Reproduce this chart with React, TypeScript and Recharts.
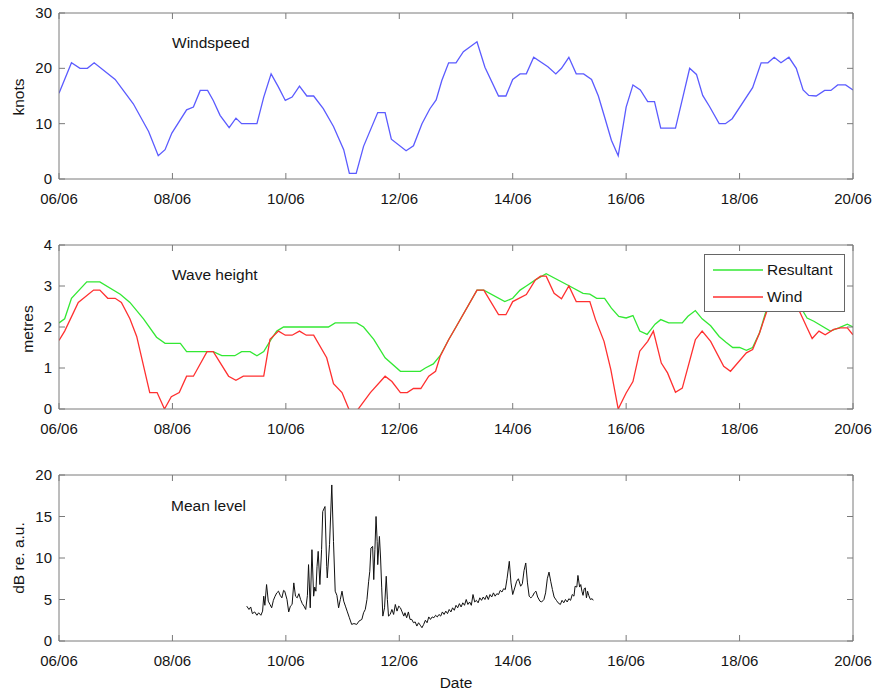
import React from 'react';
import { LineChart, Line, XAxis, YAxis, Legend } from 'recharts';

const dateTicks = [0, 2, 4, 6, 8, 10, 12, 14];
const dateLabels = ['06/06', '08/06', '10/06', '12/06', '14/06', '16/06', '18/06', '20/06'];
const windTicks = [0, 10, 20, 30];
const waveTicks = [0, 1, 2, 3, 4];
const levelTicks = [0, 5, 10, 15, 20];

// [day since 06/06, knots]
const windspeed: [number, number][] = [
  [0, 15.5], [0.22, 21], [0.37, 20], [0.5, 20], [0.62, 21], [0.99, 18], [1.31, 13.6], [1.58, 8.6],
  [1.75, 4.2], [1.87, 5.3], [1.99, 8.3], [2.25, 12.5], [2.37, 13], [2.49, 16], [2.62, 16], [2.72, 14.2],
  [2.84, 11.5], [3.0, 9.3], [3.12, 11], [3.22, 10], [3.49, 10], [3.61, 14.8], [3.74, 19], [3.87, 16.6],
  [3.99, 14.2], [4.11, 14.8], [4.24, 16.8], [4.37, 15], [4.49, 15], [4.66, 12.7], [4.84, 9.5], [5.02, 5.3],
  [5.12, 1], [5.24, 1], [5.37, 5.9], [5.62, 12], [5.75, 12], [5.86, 7.2], [6.12, 5.1], [6.25, 6],
  [6.4, 10], [6.54, 12.7], [6.65, 14.3], [6.75, 17.8], [6.87, 21], [7.0, 21], [7.13, 23], [7.37, 24.8],
  [7.51, 20.2], [7.75, 15], [7.88, 15], [8.0, 18], [8.13, 19], [8.24, 19], [8.37, 22], [8.62, 20.3],
  [8.76, 19], [8.86, 20], [8.99, 22], [9.12, 19], [9.25, 19], [9.39, 18], [9.51, 15], [9.62, 11.2],
  [9.74, 7], [9.86, 4.2], [10.0, 13], [10.12, 17], [10.25, 16.1], [10.38, 14], [10.5, 14], [10.61, 9.2],
  [10.87, 9.2], [11.0, 14.8], [11.12, 20], [11.24, 18.9], [11.35, 15.1], [11.47, 13.1], [11.64, 10], [11.75, 10],
  [11.87, 10.9], [12.23, 16.5], [12.38, 21], [12.5, 21], [12.61, 22], [12.73, 21], [12.87, 22], [13.0, 20],
  [13.12, 16.1], [13.22, 15.1], [13.35, 15], [13.5, 16], [13.61, 16], [13.73, 17], [13.87, 17], [14.0, 16.1],
];

// [day, metres]
const resultant: [number, number][] = [
  [0, 2.1], [0.1, 2.2], [0.22, 2.7], [0.49, 3.1], [0.72, 3.1], [1.08, 2.8], [1.25, 2.6], [1.49, 2.2],
  [1.72, 1.75], [1.87, 1.6], [2.14, 1.6], [2.25, 1.4], [2.72, 1.4], [2.87, 1.3], [3.1, 1.3], [3.22, 1.4],
  [3.37, 1.4], [3.49, 1.3], [3.61, 1.4], [3.74, 1.7], [3.84, 1.9], [3.96, 2.0], [4.75, 2.0], [4.87, 2.1],
  [5.25, 2.1], [5.37, 2.0], [5.55, 1.7], [5.75, 1.25], [6.02, 0.92], [6.37, 0.92], [6.46, 1.0], [6.6, 1.1],
  [6.72, 1.3], [6.87, 1.69], [7.0, 2.0], [7.37, 2.9], [7.49, 2.9], [7.86, 2.62], [8.0, 2.7], [8.13, 2.9],
  [8.24, 3.0], [8.4, 3.15], [8.59, 3.3], [9.0, 3.0], [9.24, 2.82], [9.36, 2.8], [9.48, 2.7], [9.62, 2.7],
  [9.74, 2.46], [9.87, 2.26], [10.0, 2.22], [10.12, 2.28], [10.24, 1.9], [10.37, 1.82], [10.51, 2.07], [10.61, 2.18],
  [10.75, 2.1], [10.99, 2.1], [11.09, 2.26], [11.22, 2.4], [11.34, 2.2], [11.49, 2.03], [11.64, 1.77], [11.76, 1.63],
  [11.88, 1.5], [12.0, 1.5], [12.12, 1.43], [12.23, 1.5], [12.35, 1.85], [12.48, 2.45], [12.65, 2.9], [12.85, 2.9],
  [13.07, 2.5], [13.19, 2.22], [13.31, 2.14], [13.6, 1.9], [13.75, 1.98], [13.9, 2.07], [14.0, 2.0],
];

// [day, metres]
const windWave: [number, number][] = [
  [0, 1.67], [0.1, 1.9], [0.34, 2.6], [0.61, 2.9], [0.72, 2.9], [0.86, 2.7], [0.99, 2.7], [1.1, 2.6],
  [1.25, 2.2], [1.37, 1.77], [1.6, 0.4], [1.73, 0.4], [1.86, 0], [1.98, 0.3], [2.12, 0.4], [2.25, 0.8],
  [2.37, 0.8], [2.61, 1.4], [2.72, 1.4], [2.99, 0.8], [3.12, 0.7], [3.25, 0.8], [3.61, 0.8], [3.72, 1.7],
  [3.87, 1.9], [3.99, 1.8], [4.11, 1.8], [4.24, 1.9], [4.36, 1.8], [4.49, 1.8], [4.72, 1.25], [4.84, 0.62],
  [4.99, 0.4], [5.17, -0.2], [5.49, 0.4], [5.75, 0.8], [5.87, 0.67], [6.02, 0.4], [6.14, 0.4], [6.25, 0.5],
  [6.38, 0.5], [6.52, 0.8], [6.64, 0.92], [6.72, 1.28], [6.87, 1.69], [7.0, 2.0], [7.37, 2.9], [7.49, 2.9],
  [7.75, 2.3], [7.88, 2.3], [8.0, 2.62], [8.24, 2.79], [8.4, 3.15], [8.49, 3.24], [8.59, 3.24], [8.73, 2.82],
  [8.86, 2.69], [8.99, 3.0], [9.12, 2.62], [9.36, 2.62], [9.46, 2.18], [9.61, 1.65], [9.73, 0.96], [9.86, 0],
  [10.0, 0.39], [10.12, 0.67], [10.24, 1.41], [10.38, 1.65], [10.48, 1.9], [10.62, 1.12], [10.73, 0.88], [10.87, 0.41],
  [10.99, 0.51], [11.22, 1.69], [11.34, 1.9], [11.49, 1.65], [11.72, 1.04], [11.84, 0.92], [12.12, 1.37], [12.23, 1.45],
  [12.35, 1.85], [12.49, 2.42], [12.7, 2.85], [12.9, 2.8], [13.07, 2.34], [13.19, 1.98], [13.28, 1.72], [13.4, 1.9],
  [13.51, 1.81], [13.66, 1.94], [13.78, 1.98], [13.9, 1.98], [14.0, 1.81],
];

// [day, dB re. a.u.]
const meanLevel: [number, number][] = [
  [3.31, 4.2], [3.35, 3.8], [3.38, 4.1], [3.41, 3.3], [3.45, 3.5], [3.49, 3.1], [3.52, 3.4], [3.56, 3.1],
  [3.59, 3.6], [3.61, 5.4], [3.63, 4.3], [3.66, 6.8], [3.69, 4.8], [3.72, 4.4], [3.75, 4.0], [3.78, 4.9],
  [3.81, 5.4], [3.84, 5.8], [3.87, 6.0], [3.9, 5.5], [3.93, 5.2], [3.96, 6.1], [3.98, 6.0], [4.02, 5.0],
  [4.05, 3.5], [4.08, 4.2], [4.11, 4.4], [4.14, 7.0], [4.17, 5.4], [4.2, 5.2], [4.23, 5.7], [4.26, 5.0],
  [4.29, 4.5], [4.32, 4.2], [4.35, 3.8], [4.38, 5.5], [4.4, 9.2], [4.43, 4.0], [4.46, 11.0], [4.49, 5.4],
  [4.51, 6.5], [4.53, 6.0], [4.55, 9.0], [4.57, 10.8], [4.6, 6.8], [4.63, 11.0], [4.65, 15.6], [4.69, 16.2],
  [4.72, 9.0], [4.73, 7.6], [4.77, 11.6], [4.81, 18.8], [4.84, 12.0], [4.87, 6.0], [4.9, 5.5], [4.93, 4.0],
  [4.96, 5.0], [4.99, 6.0], [5.02, 4.8], [5.05, 4.2], [5.08, 3.6], [5.12, 2.8], [5.16, 2.0], [5.2, 2.1],
  [5.25, 2.0], [5.29, 2.4], [5.34, 2.6], [5.37, 3.4], [5.4, 3.8], [5.43, 5.0], [5.46, 7.2], [5.48, 8.4],
  [5.5, 11.2], [5.53, 11.4], [5.55, 7.4], [5.57, 11.0], [5.59, 15.0], [5.61, 12.0], [5.62, 9.2], [5.65, 12.6],
  [5.67, 10.0], [5.69, 6.4], [5.71, 3.0], [5.74, 4.0], [5.77, 7.8], [5.79, 5.0], [5.81, 3.0], [5.84, 3.2],
  [5.87, 3.8], [5.9, 3.2], [5.93, 4.4], [5.96, 3.6], [5.99, 4.2], [6.02, 4.0], [6.05, 3.5], [6.08, 3.0],
  [6.1, 3.4], [6.13, 2.8], [6.16, 3.5], [6.19, 2.6], [6.22, 2.6], [6.25, 2.2], [6.28, 2.3], [6.31, 1.8],
  [6.34, 2.2], [6.37, 1.9], [6.4, 1.6], [6.43, 2.0], [6.46, 2.5], [6.49, 2.2], [6.52, 2.9], [6.55, 2.6],
  [6.58, 2.9], [6.61, 2.8], [6.64, 3.1], [6.67, 2.9], [6.7, 3.2], [6.73, 3.0], [6.76, 3.5], [6.79, 3.2],
  [6.82, 3.6], [6.85, 3.3], [6.88, 3.8], [6.91, 3.5], [6.94, 4.0], [6.97, 3.7], [7.0, 4.3], [7.03, 4.0],
  [7.06, 4.5], [7.09, 4.1], [7.12, 4.6], [7.15, 4.3], [7.18, 5.0], [7.21, 4.4], [7.24, 4.7], [7.27, 4.3],
  [7.3, 5.6], [7.33, 4.7], [7.36, 4.9], [7.39, 4.6], [7.42, 5.2], [7.45, 4.9], [7.48, 5.3], [7.51, 5.0],
  [7.54, 5.5], [7.57, 5.0], [7.6, 5.6], [7.63, 5.3], [7.66, 5.8], [7.69, 5.4], [7.72, 5.7], [7.75, 5.6],
  [7.78, 6.1], [7.81, 5.9], [7.84, 6.3], [7.87, 6.2], [7.9, 7.5], [7.94, 9.6], [7.97, 7.0], [8.0, 5.6],
  [8.04, 6.5], [8.07, 7.2], [8.1, 7.5], [8.14, 6.6], [8.17, 6.9], [8.2, 8.5], [8.23, 9.4], [8.26, 7.0],
  [8.29, 5.4], [8.32, 5.2], [8.35, 5.4], [8.38, 5.8], [8.41, 6.0], [8.44, 5.3], [8.48, 4.8], [8.51, 4.7],
  [8.55, 5.0], [8.58, 5.8], [8.61, 7.5], [8.64, 8.3], [8.67, 7.2], [8.7, 6.2], [8.73, 5.3], [8.77, 4.9],
  [8.8, 4.6], [8.84, 4.4], [8.87, 4.9], [8.9, 4.6], [8.93, 5.0], [8.96, 4.7], [8.99, 5.1], [9.02, 4.9],
  [9.05, 5.6], [9.08, 5.4], [9.1, 6.6], [9.13, 6.5], [9.15, 7.9], [9.18, 6.5], [9.2, 6.8], [9.22, 6.0],
  [9.24, 5.5], [9.26, 6.3], [9.28, 6.4], [9.3, 5.2], [9.32, 6.0], [9.34, 5.5], [9.37, 5.0], [9.4, 5.1],
  [9.42, 4.9],
];

const toRows = (pairs: [number, number][]) => pairs.map(([d, v]) => ({ d, v }));

const FRAME = '#7a7a7a';
const TXT = '#151515';
const FONT = '"Liberation Sans", Arial, Helvetica, sans-serif';
const TICK_FS = 15;
const TEXT_FS = 15.5;
const W = 875;
const Y_AXIS_W = 40;
const X_AXIS_H = 30;

const BottomTick = (props: any) => {
  const { x, y, payload } = props;
  const i = dateTicks.indexOf(payload.value);
  return (
    <g>
      <line x1={x} x2={x} y1={y} y2={y - 6} stroke={FRAME} strokeWidth={1} />
      <text x={x} y={y + 25} textAnchor="middle" fontSize={TICK_FS} fill={TXT} fontFamily={FONT}>
        {i >= 0 ? dateLabels[i] : ''}
      </text>
    </g>
  );
};

const TopTick = (props: any) => {
  const { x, y } = props;
  return <line x1={x} x2={x} y1={y} y2={y + 6} stroke={FRAME} strokeWidth={1} />;
};

const LeftTick = (props: any) => {
  const { x, y, payload } = props;
  return (
    <g>
      <line x1={x} x2={x + 6} y1={y} y2={y} stroke={FRAME} strokeWidth={1} />
      <text x={x - 7} y={y + 5} textAnchor="end" fontSize={TICK_FS} fill={TXT} fontFamily={FONT}>
        {payload.value}
      </text>
    </g>
  );
};

const RightTick = (props: any) => {
  const { x, y } = props;
  return <line x1={x} x2={x - 6} y1={y} y2={y} stroke={FRAME} strokeWidth={1} />;
};

const WaveLegend = () => (
  <div
    style={{
      width: 141,
      height: 58,
      boxSizing: 'border-box',
      border: '1px solid #666',
      background: '#fff',
      fontFamily: FONT,
      fontSize: TEXT_FS,
      color: TXT,
      position: 'relative',
    }}
  >
    <svg width={60} height={56} style={{ position: 'absolute', left: 0, top: 0 }}>
      <line x1={8} x2={58} y1={15} y2={15} stroke="#33e833" strokeWidth={1.3} />
      <line x1={8} x2={58} y1={42} y2={42} stroke="#ff3030" strokeWidth={1.3} />
    </svg>
    <div style={{ position: 'absolute', left: 62, top: 6, lineHeight: '18px' }}>Resultant</div>
    <div style={{ position: 'absolute', left: 62, top: 33, lineHeight: '18px' }}>Wind</div>
  </div>
);

type PanelProps = {
  top: number;
  height: number;
  plotTop: number;
  plotBottom: number;
  yMax: number;
  yTicks: number[];
  children: React.ReactNode;
};

// plot box: x 59..853
const Panel = ({ top, height, plotTop, plotBottom, yMax, yTicks, children }: PanelProps) => (
  <div style={{ position: 'absolute', left: 0, top, width: W, height }}>
    <LineChart
      width={W}
      height={height}
      margin={{
        top: plotTop - 1,
        right: W - 853 - 1,
        bottom: height - plotBottom - X_AXIS_H,
        left: 59 - Y_AXIS_W,
      }}
    >
      <XAxis
        xAxisId="b"
        dataKey="d"
        type="number"
        domain={[0, 14]}
        allowDataOverflow
        ticks={dateTicks}
        interval={0}
        height={X_AXIS_H}
        tickSize={0}
        tickMargin={0}
        tickLine={false}
        axisLine={{ stroke: FRAME }}
        tick={<BottomTick />}
      />
      <XAxis
        xAxisId="t"
        orientation="top"
        dataKey="d"
        type="number"
        domain={[0, 14]}
        allowDataOverflow
        ticks={dateTicks}
        interval={0}
        height={1}
        tickSize={0}
        tickMargin={0}
        tickLine={false}
        axisLine={{ stroke: FRAME }}
        tick={<TopTick />}
      />
      <YAxis
        yAxisId="l"
        type="number"
        domain={[0, yMax]}
        allowDataOverflow
        ticks={yTicks}
        interval={0}
        width={Y_AXIS_W}
        tickSize={0}
        tickMargin={0}
        tickLine={false}
        axisLine={{ stroke: FRAME }}
        tick={<LeftTick />}
      />
      <YAxis
        yAxisId="r"
        orientation="right"
        type="number"
        domain={[0, yMax]}
        allowDataOverflow
        ticks={yTicks}
        interval={0}
        width={1}
        tickSize={0}
        tickMargin={0}
        tickLine={false}
        axisLine={{ stroke: FRAME }}
        tick={<RightTick />}
      />
      {children}
    </LineChart>
  </div>
);

const textStyle: React.CSSProperties = {
  position: 'absolute',
  fontFamily: FONT,
  fontSize: TEXT_FS,
  color: TXT,
  whiteSpace: 'nowrap',
  lineHeight: '18px',
};

const RotLabel = ({ text, cx, cy }: { text: string; cx: number; cy: number }) => (
  <div
    style={{
      ...textStyle,
      left: cx - 100,
      top: cy - 9,
      width: 200,
      textAlign: 'center',
      transform: 'rotate(-90deg)',
    }}
  >
    {text}
  </div>
);

export default function App() {
  return (
    <div style={{ position: 'absolute', left: 0, top: 0, width: W, height: 693, background: '#fff', fontFamily: FONT }}>
      <Panel top={0} height={230} plotTop={13} plotBottom={179} yMax={30} yTicks={windTicks}>
        <Line
          xAxisId="b"
          yAxisId="l"
          data={toRows(windspeed)}
          dataKey="v"
          name="Windspeed"
          stroke="#5b5bff"
          strokeWidth={1.3}
          dot={false}
          isAnimationActive={false}
        />
      </Panel>
      <Panel top={230} height={230} plotTop={15} plotBottom={179} yMax={4} yTicks={waveTicks}>
        <Line
          xAxisId="b"
          yAxisId="l"
          data={toRows(resultant)}
          dataKey="v"
          name="Resultant"
          stroke="#33e833"
          strokeWidth={1.3}
          dot={false}
          isAnimationActive={false}
        />
        <Line
          xAxisId="b"
          yAxisId="l"
          data={toRows(windWave)}
          dataKey="v"
          name="Wind"
          stroke="#ff3030"
          strokeWidth={1.3}
          dot={false}
          isAnimationActive={false}
        />
        <Legend
          layout="vertical"
          align="center"
          verticalAlign="middle"
          content={<WaveLegend />}
          wrapperStyle={{ position: 'absolute', left: 704, top: 24, width: 141, height: 58, margin: 0 }}
        />
      </Panel>
      <Panel top={460} height={233} plotTop={15} plotBottom={181} yMax={20} yTicks={levelTicks}>
        <Line
          xAxisId="b"
          yAxisId="l"
          data={toRows(meanLevel)}
          dataKey="v"
          name="Mean level"
          stroke="#111111"
          strokeWidth={1}
          dot={false}
          isAnimationActive={false}
        />
      </Panel>

      <div style={{ ...textStyle, left: 172, top: 34 }}>Windspeed</div>
      <div style={{ ...textStyle, left: 172, top: 266 }}>Wave height</div>
      <div style={{ ...textStyle, left: 171, top: 497 }}>Mean level</div>

      <RotLabel text="knots" cx={19} cy={97} />
      <RotLabel text="metres" cx={28} cy={329} />
      <RotLabel text="dB re. a.u." cx={19} cy={558} />

      <div style={{ ...textStyle, left: 356, top: 674, width: 200, textAlign: 'center' }}>Date</div>
    </div>
  );
}
